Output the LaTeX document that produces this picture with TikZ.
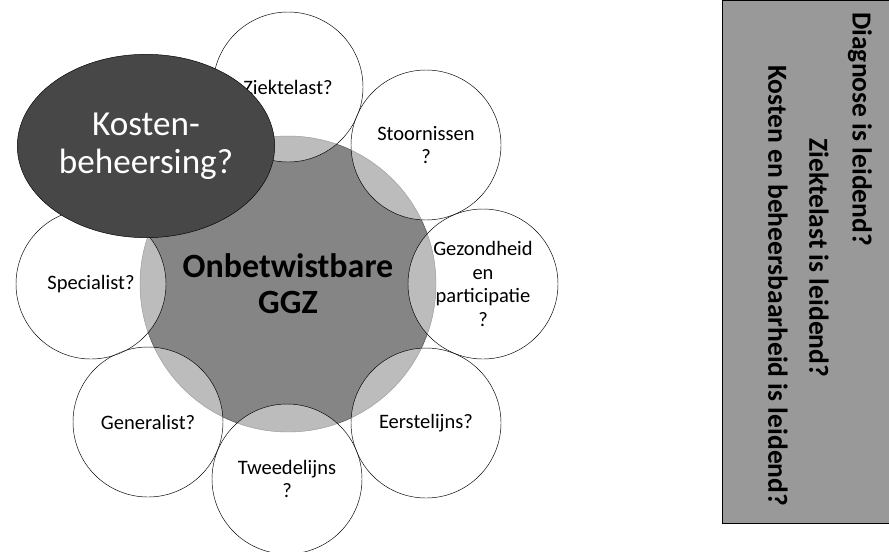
\documentclass[tikz,border=0pt]{standalone}
\usepackage{fontspec}
\setmainfont{Carlito}
\usetikzlibrary{shapes.geometric}

\begin{document}
\begin{tikzpicture}[x=0.03cm,y=-0.03cm,
    ring/.style={circle,draw,thin,minimum size=4.5cm,inner sep=0pt,fill=white,fill opacity=0.45,text opacity=1,align=center,font=\fontsize{17.5}{20}\selectfont},
    vraag/.style={rotate=-90,anchor=west,inner sep=0pt,font=\fontsize{23.5}{25}\selectfont\bfseries}]
        \useasboundingbox (0,0) rectangle (889,551);

        % Middle circle
        \node[circle,draw=black!70,fill=black!48,minimum size=8.88cm,align=center,font=\fontsize{29}{31}\selectfont\bfseries] (ggz) at (288,284) {Onbetwistbare\\GGZ};

        % Ring of questions
        \node[ring] (ziekte) at (288,87) {Ziektelast?};
        \node[ring] (stoor) at (426,145) {Stoornissen\\?};
        \node[ring] (gezond) at (483,284) {Gezondheid\\en\\participatie\\?};
        \node[ring] (eerste) at (426,423) {Eerstelijns?};
        \node[ring] (tweede) at (287,479) {Tweedelijns\\?};
        \node[ring] (general) at (148,422) {Generalist?};
        \node[ring] (special) at (91,284) {Specialist?};

        % Cost ellipse on top
        \node[ellipse,draw=black,fill=black!72,text=white,minimum width=7.5cm,minimum height=5.5cm,align=center,font=\fontsize{30}{32}\selectfont] (kosten) at (146,146) {Kosten-\\beheersing?};

        % Panel on the right
        \node[rectangle,draw=black,thick,fill=black!40,minimum width=5.01cm,minimum height=15.69cm,inner sep=0pt] (panel) at (805.5,261.5) {};
        \node[vraag] (diagnose) at (860,12) {Diagnose is leidend?};
        \node[vraag] (ziektelast) at (819,138) {Ziektelast is leidend?};
        \node[vraag] (beheer) at (778,65) {Kosten en beheersbaarheid is leidend?};
      \end{tikzpicture}
\end{document}
